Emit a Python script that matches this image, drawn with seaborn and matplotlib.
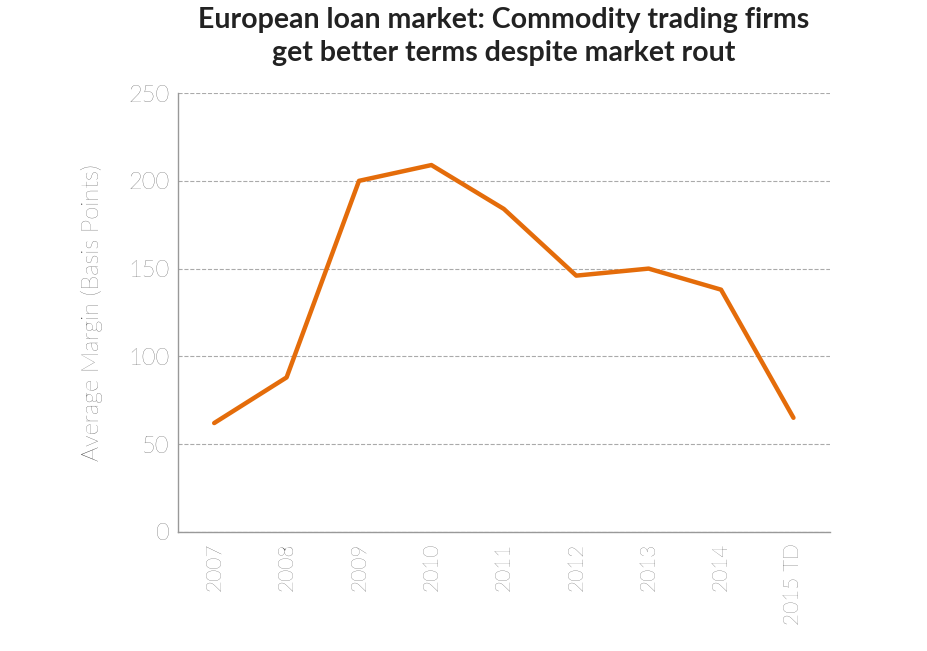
import matplotlib
matplotlib.use("Agg")
import matplotlib.pyplot as plt
import seaborn as sns
import pandas as pd
import numpy as np

years = ["2007", "2008", "2009", "2010", "2011", "2012", "2013", "2014", "2015 TD"]
margins = [62, 88, 200, 209, 184, 146, 150, 138, 65]

sns.set_style("white")
plt.rcParams['font.family'] = ['Lato', 'DejaVu Sans']

df = pd.DataFrame({"year": years, "margin": margins})
fig = plt.figure(figsize=(9.27, 6.51), dpi=100)
ax = fig.add_axes([0.192, 0.183, 0.703, 0.674])
sns.lineplot(data=df, x="year", y="margin", ax=ax, color="#E46C0A", linewidth=3.2, sort=False)

ax.set_ylim(0, 250)
ax.set_yticks([0, 50, 100, 150, 200, 250])
ax.set_xlim(-0.5, len(years) - 0.5)
ax.set_xticks(range(len(years)))
ax.set_xticklabels(years, rotation=90, fontsize=15, color="#333333", fontweight="light")
ax.set_xticks(np.arange(-0.5, len(years), 1), minor=True)
ax.tick_params(axis="x", which="major", length=0, pad=8)
ax.tick_params(axis="x", which="minor", length=7, color="#999999", direction="out")
ax.tick_params(axis="y", labelsize=17, colors="#333333", length=0, pad=6)
for t in ax.get_yticklabels():
    t.set_fontweight("light")
ax.yaxis.grid(True, linestyle="--", color="#AAAAAA", linewidth=0.8)
ax.set_axisbelow(True)
for s in ["top", "right"]:
    ax.spines[s].set_visible(False)
for s in ["left", "bottom"]:
    ax.spines[s].set_color("#999999")
    ax.spines[s].set_linewidth(1)
ax.set_xlabel("")
ax.set_ylabel("Average Margin (Basis Points)", fontsize=17, color="#333333", labelpad=18, fontweight="light")
fig.suptitle("European loan market: Commodity trading firms\nget better terms despite market rout",
             x=0.543, y=0.99, fontsize=20.5, fontweight="bold", color="#222222", linespacing=1.35)
fig.savefig("out.png", dpi=100)
